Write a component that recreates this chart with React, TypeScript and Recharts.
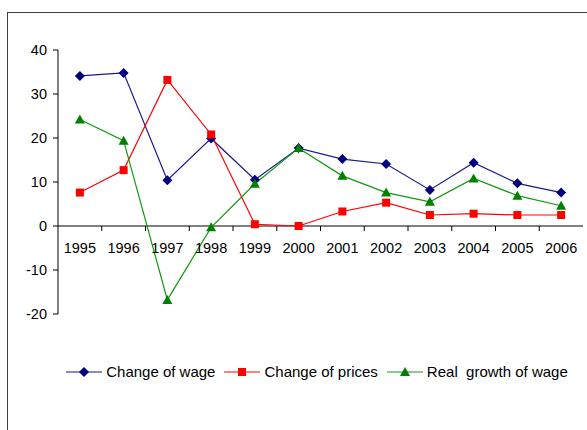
import React from 'react';
import { LineChart, Line, XAxis, YAxis, ReferenceLine, ReferenceDot } from 'recharts';

const years = ['1995', '1996', '1997', '1998', '1999', '2000', '2001', '2002', '2003', '2004', '2005', '2006'];
const wageChange = [34.1, 34.8, 10.4, 19.9, 10.5, 17.7, 15.2, 14.1, 8.2, 14.4, 9.7, 7.6];
const priceChange = [7.6, 12.7, 33.2, 20.8, 0.4, 0.0, 3.3, 5.3, 2.5, 2.8, 2.5, 2.5];
const realGrowth = [24.2, 19.4, -16.8, -0.3, 9.6, 17.7, 11.4, 7.6, 5.5, 10.8, 6.9, 4.6];
const yTicks = [-20, -10, 0, 10, 20, 30, 40];

const FONT = '"Liberation Sans", Arial, sans-serif';

const data = years.map((year, i) => ({
  pos: i + 0.5,
  year,
  wage: wageChange[i],
  prices: priceChange[i],
  real: realGrowth[i],
}));

const boundaries = years.slice(1).map((_, i) => i + 1);

type Shape = 'diamond' | 'square' | 'triangle';

const series: { key: string; name: string; color: string; line: string; shape: Shape }[] = [
  { key: 'wage', name: 'Change of wage', color: '#000080', line: '#1a1a8c', shape: 'diamond' },
  { key: 'prices', name: 'Change of prices', color: '#ff0000', line: '#ff0000', shape: 'square' },
  { key: 'real', name: 'Real  growth of wage', color: '#008000', line: '#119911', shape: 'triangle' },
];

function Marker({ cx, cy, shape, color, k }: { cx: number; cy: number; shape: Shape; color: string; k?: string }) {
  if (cx == null || cy == null || isNaN(cx) || isNaN(cy)) return <g key={k} />;
  if (shape === 'diamond') {
    return <polygon key={k} points={`${cx},${cy - 5} ${cx + 5},${cy} ${cx},${cy + 5} ${cx - 5},${cy}`} fill={color} />;
  }
  if (shape === 'square') {
    return <rect key={k} x={cx - 4} y={cy - 4} width={8} height={8} fill={color} />;
  }
  return <polygon key={k} points={`${cx},${cy - 5} ${cx + 5},${cy + 4} ${cx - 5},${cy + 4}`} fill={color} />;
}

export default function App() {
  return (
    <div style={{ position: 'absolute', left: 0, top: 0, width: 587, height: 430, overflow: 'hidden', background: '#fff' }}>
      <div
        style={{
          position: 'absolute',
          left: 7,
          top: 12,
          width: 640,
          height: 500,
          borderLeft: '1px solid #404040',
          borderTop: '1px solid #404040',
        }}
      />
      <div style={{ position: 'absolute', left: 0, top: 0 }}>
        <LineChart width={587} height={430} data={data} margin={{ top: 50, right: 4, bottom: 116, left: 0 }}>
          <XAxis type="number" dataKey="pos" domain={[0, 12]} hide />
          <YAxis
            type="number"
            domain={[-20, 40]}
            ticks={yTicks}
            interval={0}
            width={58}
            axisLine={{ stroke: '#000' }}
            tickLine={{ stroke: '#000' }}
            tickSize={5}
            tickMargin={6}
            tick={{ fill: '#000', fontSize: 14.5, fontFamily: FONT }}
          />
          <ReferenceLine y={0} stroke="#000" />
          {boundaries.map((b) => (
            <ReferenceLine
              key={'b' + b}
              segment={[
                { x: b, y: 0 },
                { x: b, y: -1.15 },
              ]}
              stroke="#000"
            />
          ))}
          {data.map((d) => (
            <ReferenceDot
              key={'l' + d.year}
              x={d.pos}
              y={0}
              r={0}
              fill="none"
              stroke="none"
              label={{ value: d.year, position: 'bottom', offset: 17, fill: '#000', fontSize: 14.5, fontFamily: FONT }}
            />
          ))}
          {series.map((s) => (
            <Line
              key={s.key}
              type="linear"
              dataKey={s.key}
              name={s.name}
              stroke={s.line}
              strokeWidth={1.2}
              isAnimationActive={false}
              dot={(p: any) => <Marker k={`${s.key}-${p.index}`} cx={p.cx} cy={p.cy} shape={s.shape} color={s.color} />}
              activeDot={false}
            />
          ))}
        </LineChart>
      </div>
      <div
        style={{
          position: 'absolute',
          left: 0,
          top: 363,
          width: 634,
          display: 'flex',
          justifyContent: 'center',
          alignItems: 'center',
          fontFamily: FONT,
          fontSize: 15,
          color: '#000',
          lineHeight: '18px',
          whiteSpace: 'pre',
        }}
      >
        {series.map((s, i) => (
          <div key={s.key} style={{ display: 'flex', alignItems: 'center', marginLeft: i === 0 ? 0 : 9 }}>
            <svg width={36} height={12} style={{ marginRight: 4 }}>
              <line x1={0} y1={6} x2={36} y2={6} stroke={s.line} strokeWidth={1.2} />
              <Marker cx={18} cy={6} shape={s.shape} color={s.color} />
            </svg>
            <span>{s.name}</span>
          </div>
        ))}
      </div>
    </div>
  );
}
